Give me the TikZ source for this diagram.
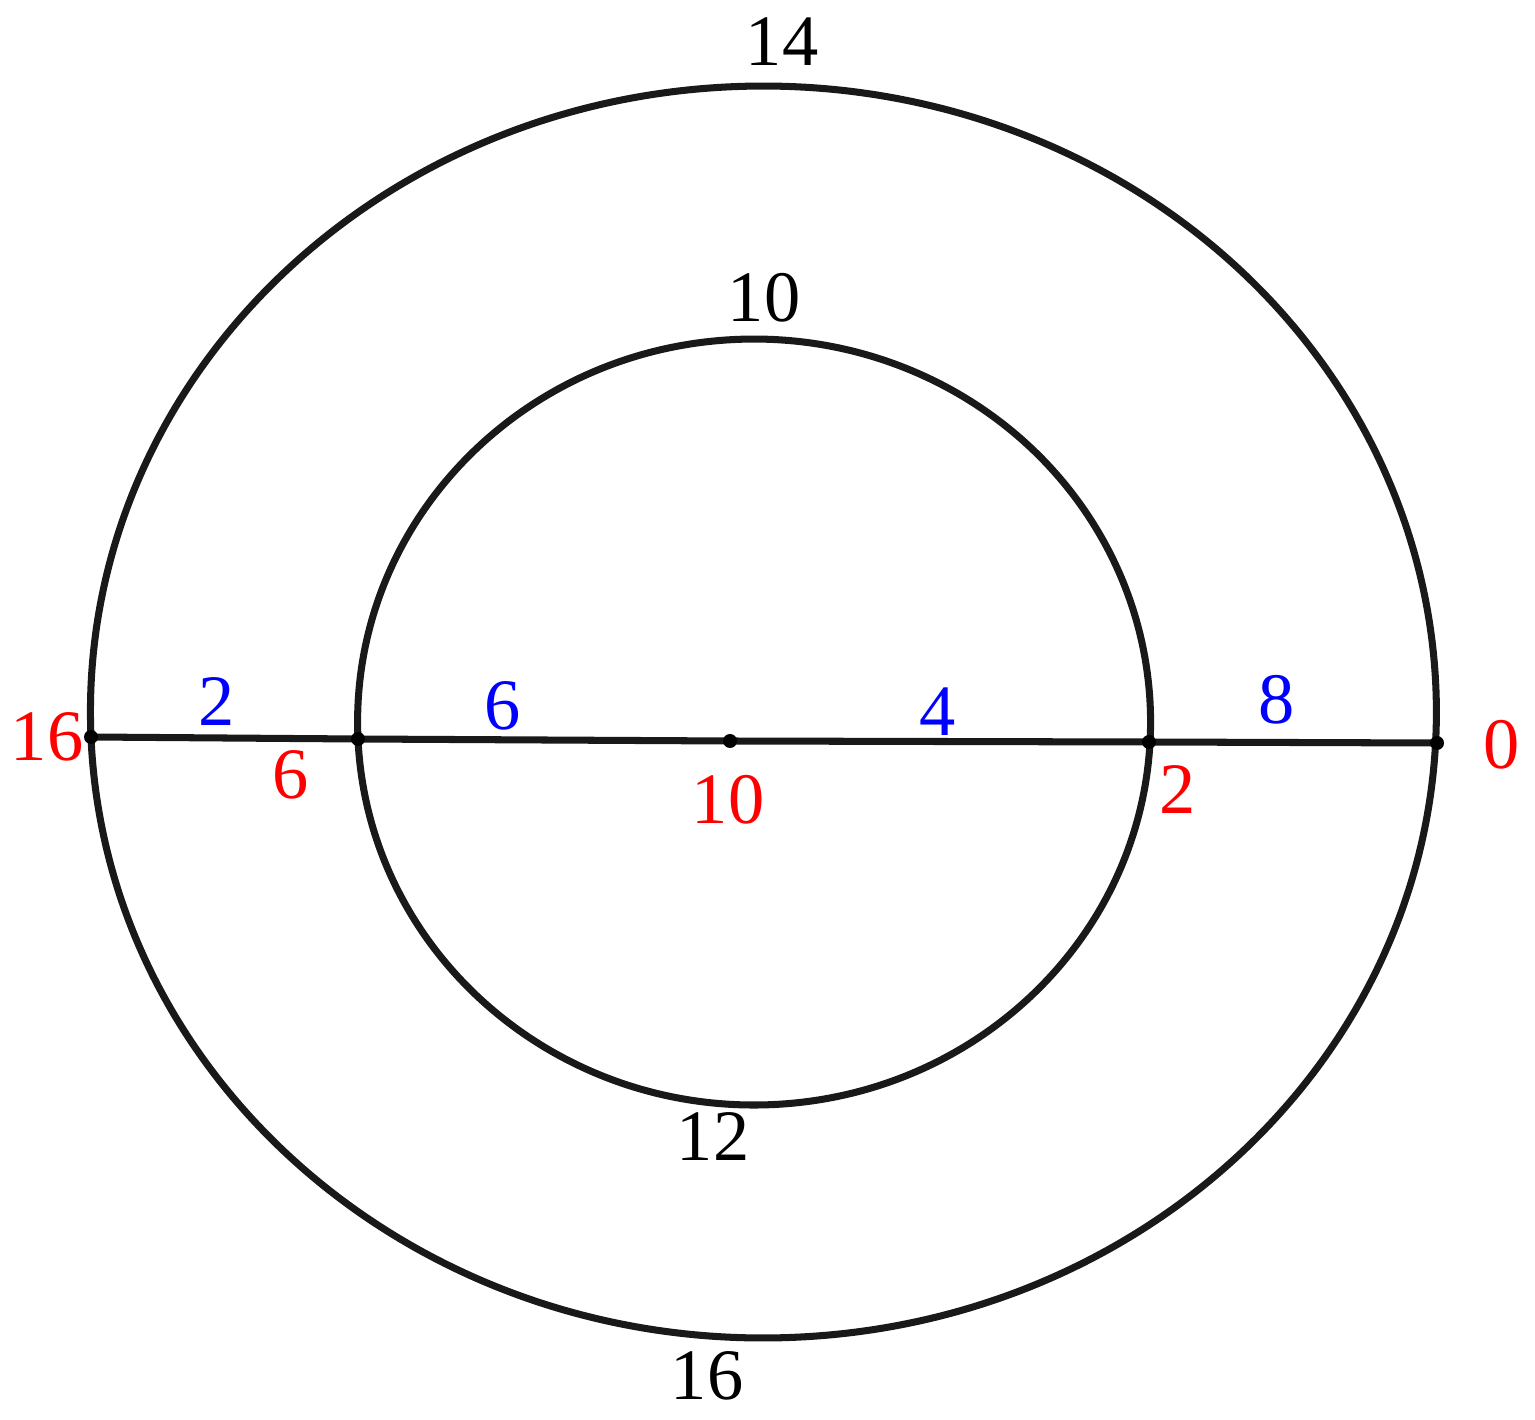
\documentclass[tikz,border=0pt]{standalone}
\usepackage{fontspec}
\setmainfont{Liberation Serif}
\usetikzlibrary{calc}

\tikzset{
  edge/.style={line width=2pt, color=black!90},
  dot/.style={fill=black},
  wt/.style={color=blue, inner sep=0pt},
  dist/.style={color=red, inner sep=0pt},
  arclbl/.style={color=black, inner sep=0pt}
}

\begin{document}
\begin{tikzpicture}[x=0.01cm,y=0.01cm,font=\fontsize{20.6}{24}\selectfont]
    \useasboundingbox (0,0) rectangle (1535,1420);
    % vertices on the diameter
    \coordinate (v16) at (91,683);
    \coordinate (v6) at (358,681);
    \coordinate (v10) at (730,679);
    \coordinate (v2) at (1149,678);
    \coordinate (v0) at (1437,677);

    % outer ring
    \draw [edge] (v16) arc [start angle=182.29, end angle=-2.84, x radius=673, y radius=626];
    \draw [edge] (v16) arc [start angle=182.29, end angle=357.16, x radius=673, y radius=626];
    % inner ring
    \draw [edge] (v6) arc [start angle=182.54, end angle=-2.99, x radius=396.5, y radius=383];
    \draw [edge] (v6) arc [start angle=182.54, end angle=357.01, x radius=396.5, y radius=383];
    % diameter
    \draw [edge] (v16) -- (v6);
    \draw [edge] (v6) -- (v10);
    \draw [edge] (v10) -- (v2);
    \draw [edge] (v2) -- (v0);

    \foreach \v in {v16,v6,v10,v2,v0}
      \fill [dot] (\v) circle (7);

    % weights
    \node [arclbl] (w14) at (782,1378) {14};
    \node [arclbl] (w10) at (764,1122) {10};
    \node [arclbl] (w12) at (713,283) {12};
    \node [arclbl] (w16) at (707,44) {16};
    \node [wt] (wa) at (217,718) {2};
    \node [wt] (wb) at (503,714) {6};
    \node [wt] (wc) at (938,708) {4};
    \node [wt] (wd) at (1277,720) {8};

    % distances
    \node [dist] (d16) at (47,683) {16};
    \node [dist] (d6) at (291,645) {6};
    \node [dist] (d10) at (728,620) {10};
    \node [dist] (d2) at (1178,630) {2};
    \node [dist] (d0) at (1502,675) {0};
\end{tikzpicture}
\end{document}
